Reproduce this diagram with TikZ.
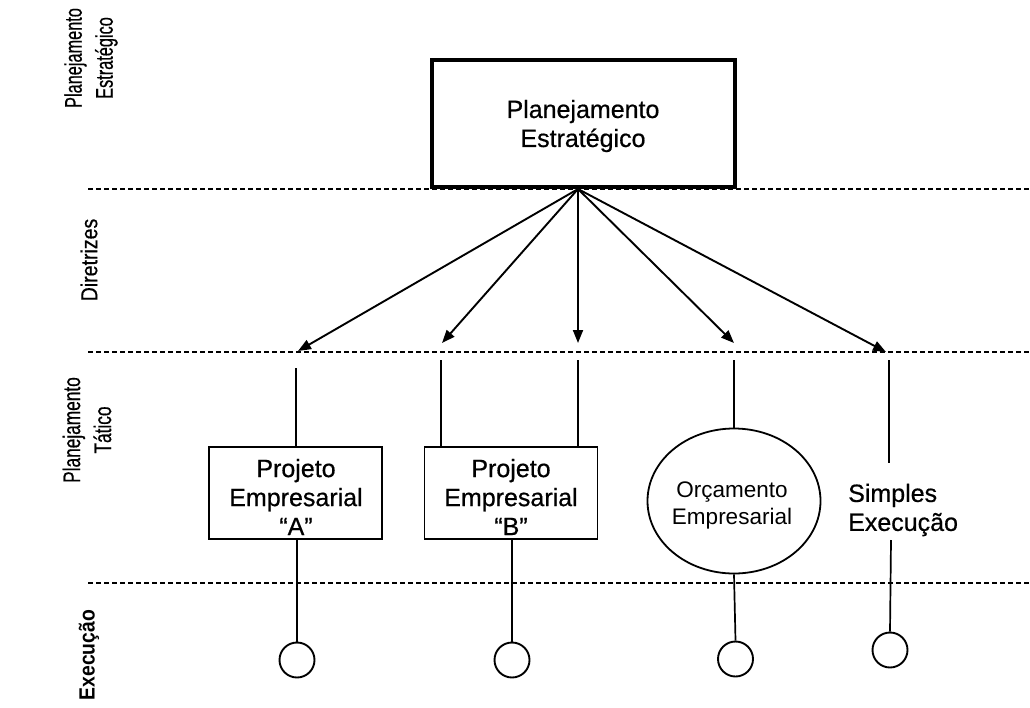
\documentclass[tikz,border=0pt]{standalone}
\usepackage{fontspec}
\setmainfont{Liberation Sans}
\newfontfamily\inkfont{Liberation Sans}[FakeBold=0.6]
\usetikzlibrary{arrows.meta,shapes.geometric}
\newcommand{\narrow}[2]{\scalebox{#1}[1]{#2}}
\begin{document}
\begin{tikzpicture}[x=1pt,y=-1pt,
  lane/.style={line width=1.5pt, dash pattern=on 5pt off 3pt},
  link/.style={line width=1.7pt},
  flow/.style={line width=1.9pt, -{Triangle[length=13pt,width=10pt]}},
  txt/.style={font=\inkfont\fontsize{25}{29}\selectfont, align=center, inner sep=0pt},
  topbox/.style={draw, line width=3.2pt, fill=white, minimum width=303pt, minimum height=127pt, inner sep=0pt},
  projbox/.style={draw, line width=1.8pt, fill=white, minimum width=173pt, minimum height=92pt, inner sep=0pt},
  budget/.style={ellipse, draw, line width=1.8pt, inner sep=0pt, minimum width=173pt, minimum height=145pt},
  budgettxt/.style={align=center, inner sep=0pt, font=\fontsize{22.5}{27}\selectfont},
  endpt/.style={circle, draw, line width=1.9pt, minimum size=35pt, inner sep=0pt},
  level/.style={rotate=90, align=center, inner sep=0pt, font=\inkfont\fontsize{24}{31}\selectfont}
]
\useasboundingbox (0,0) rectangle (1030,707);

% level separators
\foreach \y/\n in {189/1,352/2,583/3}{
  \coordinate (s\n a) at (88,\y);
  \coordinate (s\n b) at (1030,\y);
  \draw[lane] (s\n a) -- (s\n b);
}

% level labels
\node[level] (lab1) at (91,58) {\narrow{0.68}{Planejamento}\\\narrow{0.68}{Estratégico}};
\node[level, font=\inkfont\fontsize{23}{31}\selectfont] (lab2) at (89,260) {\narrow{0.85}{Diretrizes}};
\node[level] (lab3) at (87,430) {\narrow{0.72}{Planejamento}\\\narrow{0.72}{Tático}};
\node[level, font=\bfseries\fontsize{22}{31}\selectfont] (lab4) at (89,655) {\narrow{0.88}{Execução}};

% strategic planning
\node[topbox] (pe) at (583.5,123.5) {};
\node[txt] (pet) at (583,126) {Planejamento\\Estratégico};

% tactical items
\node[projbox] (pa) at (295.5,493) {};
\node[txt] (pat) at (296,497) {Projeto\\Empresarial\\“A”};
\node[projbox] (pb) at (511,493) {};
\node[txt] (pbt) at (511,497) {Projeto\\Empresarial\\“B”};
\node[budget] (oe) at (734,501) {};
\node[budgettxt] (oet) at (732,505) {Orçamento\\Empresarial};
\node[txt, anchor=west, align=left] (se) at (848,510) {Simples\\Execução};

% execution end points
\node[endpt] (ca) at (297,660) {};
\node[endpt] (cb) at (512,660) {};
\node[endpt] (cc) at (735.5,659) {};
\node[endpt] (cd) at (890,650) {};

% guidelines
\coordinate (src) at (578,189);
\coordinate (tA) at (298,351);
\coordinate (tB) at (442,343);
\coordinate (tC) at (578,343);
\coordinate (tD) at (734,343);
\coordinate (tE) at (886,352);
\foreach \t in {tA,tB,tC,tD,tE}{
  \draw[flow] (src) -- (\t);
}

% links into the tactical level
\coordinate (uA) at (296,368);
\coordinate (uB1) at (441,360);
\coordinate (uB2) at (578,360);
\coordinate (uC) at (734,360);
\coordinate (uD) at (889,360);
\coordinate (uDe) at (889,463);
\draw[link] (uA) -- (uA |- pa.north);
\draw[link] (uB1) -- (uB1 |- pb.north);
\draw[link] (uB2) -- (uB2 |- pb.north);
\draw[link] (uC) -- (oe.north);
\draw[link] (uD) -- (uDe);

% links down to execution
\coordinate (lD) at (891,540);
\draw[link] (pa.south -| ca) -- (ca.north);
\draw[link] (pb.south -| cb) -- (cb.north);
\draw[link] (oe.south) -- (cc.north);
\draw[link] (lD) -- (cd.north);
\end{tikzpicture}
\end{document}
